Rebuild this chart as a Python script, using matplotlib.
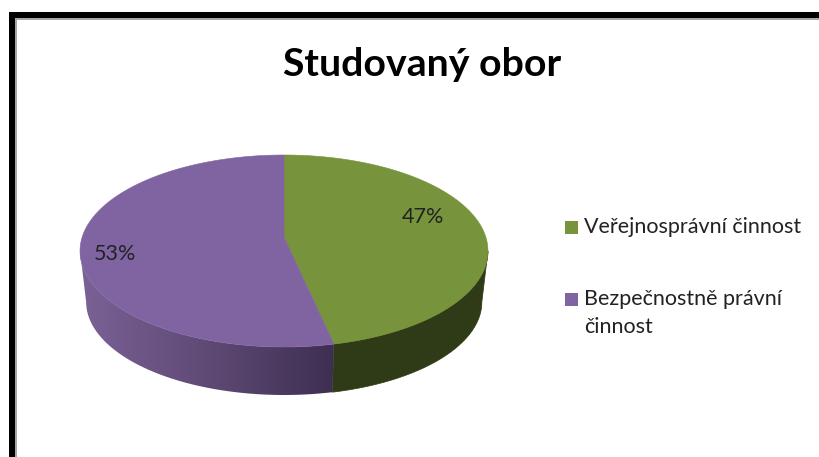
import matplotlib

matplotlib.use("Agg")
import matplotlib.pyplot as plt
from matplotlib.colors import LinearSegmentedColormap
from matplotlib.patches import Polygon, Rectangle
import numpy as np

title = "Studovaný obor"
categories = ["Veřejnosprávní činnost", "Bezpečnostně právní\nčinnost"]
values = [46.6, 53.4]
colors = ["#77933c", "#8064a2"]


def project(angle, scale=1.0, drop=0.0):
    # angle in degrees, clockwise from the top of the pie, with a bit of perspective
    X = np.sin(np.radians(angle))
    Y = np.cos(np.radians(angle))
    den = 1 + 0.1458 * Y
    x = 284 + scale * 201.8 * X / den
    y = 237 + drop + scale * 93.96 * Y * -1 / den
    return np.column_stack([x, y])


fig = plt.figure(figsize=(8.19, 4.57), dpi=100, facecolor="white")
ax = fig.add_axes([0, 0, 1, 1])
ax.set_xlim(0, 819)
ax.set_ylim(457, 0)
ax.axis("off")

# Frame of the screenshot
ax.add_patch(Rectangle((9, 12), 810, 6, color="black", lw=0))
ax.add_patch(Rectangle((9, 12), 6, 445, color="black", lw=0))
ax.add_patch(Rectangle((15, 18), 804, 2, color="#a6a6a6", lw=0))
ax.add_patch(Rectangle((15, 18), 2, 439, color="#a6a6a6", lw=0))

ax.text(422, 64, title, family="Lato", weight="bold", fontsize=28.3,
        ha="center", va="center", color="black")

edges = np.concatenate([[0], np.cumsum(values) / np.sum(values) * 360])

# Only the front of the wall shows, between the left and right extremes of the rim
dense = np.linspace(0, 360, 3601)
rim_x = project(dense)[:, 0]
front_start = dense[np.argmax(rim_x)]
front_end = dense[np.argmin(rim_x)]

purple_side = LinearSegmentedColormap.from_list("side", ["#7a6296", "#5f4a75", "#3e2f52"])
for i in range(len(values)):
    start = max(edges[i], front_start)
    end = min(edges[i + 1], front_end)
    angles = np.linspace(start, end, 200)
    wall = np.vstack([project(angles), project(angles, 0.97, 51.3)[::-1]])
    if i == 0:
        ax.add_patch(Polygon(wall, closed=True, facecolor="#2f3a16", edgecolor="#2f3a16", lw=0.5))
    else:
        poly = Polygon(wall, closed=True, facecolor="none", edgecolor="none")
        ax.add_patch(poly)
        grad = ax.imshow(np.linspace(0, 1, 256).reshape(1, -1), cmap=purple_side,
                         extent=(80, 334, 400, 240), aspect="auto", zorder=1)
        grad.set_clip_path(poly)

# Top face
for i in range(len(values)):
    angles = np.linspace(edges[i], edges[i + 1], 200)
    pts = np.vstack([project(angles), project(np.array([0.0]), 0.0)])
    ax.add_patch(Polygon(pts, closed=True, facecolor=colors[i], edgecolor=colors[i], lw=0.4, zorder=2))

ax.set_xlim(0, 819)
ax.set_ylim(457, 0)

# Data labels
label_pos = [(423, 217), (115, 254)]
for v, (lx, ly) in zip(values, label_pos):
    ax.text(lx, ly, "%.0f%%" % v, family="Lato", fontsize=15.5, ha="center", va="center",
            color="#222222", zorder=3)

# Legend
legend_y = [227, 299]
for name, c, ly in zip(categories, colors, legend_y):
    ax.add_patch(Rectangle((565, ly - 6.5), 13, 13, facecolor=c, edgecolor="none"))
    for n, line in enumerate(name.split("\n")):
        ax.text(584, ly + n * 28, line, family="Lato", fontsize=15.5, ha="left", va="center",
                color="#222222")

fig.savefig("out.png", dpi=100)
plt.close(fig)
